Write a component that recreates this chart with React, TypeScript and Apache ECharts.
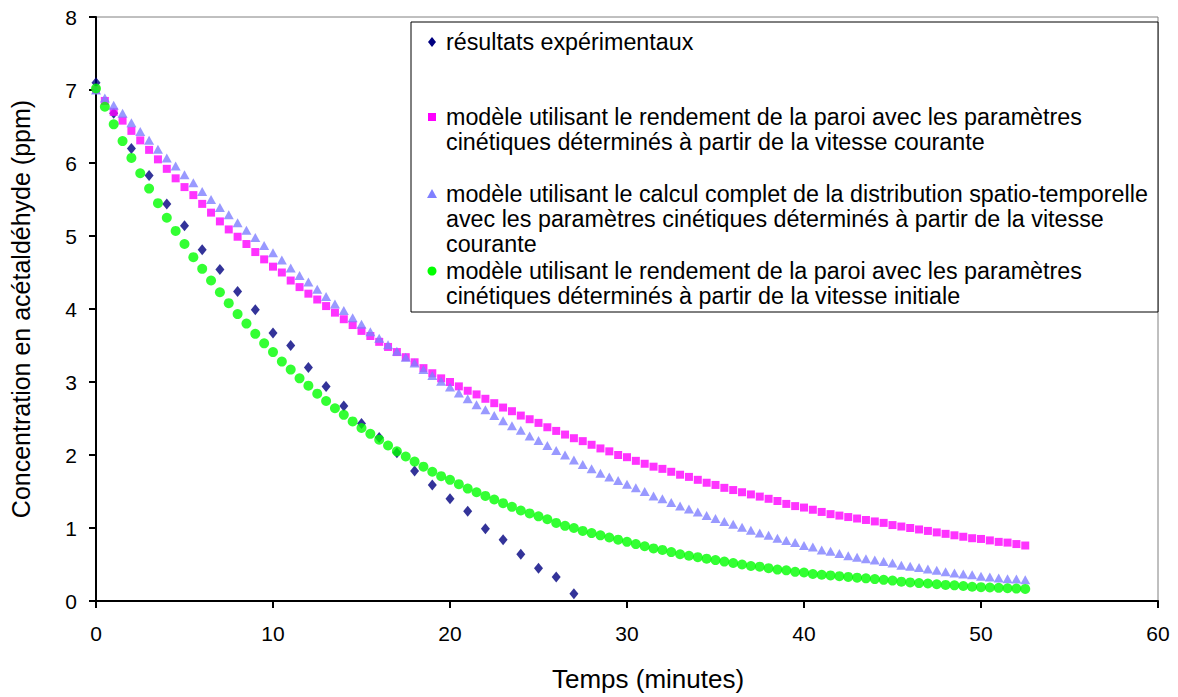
import React, { useEffect, useRef } from "react";
import * as echarts from "echarts";

const FONT = "'Liberation Sans', Arial, Helvetica, sans-serif";

// experimental results (minutes, ppm)
const expMinutes = [0, 1, 2, 3, 4, 5, 6, 7, 8, 9, 10, 11, 12, 13, 14, 15, 16, 17, 18, 19, 20, 21, 22, 23, 24, 25, 26, 27];
const expValues = [7.1, 6.68, 6.2, 5.83, 5.44, 5.14, 4.81, 4.54, 4.24, 3.99, 3.67, 3.5, 3.2, 2.94, 2.67, 2.43, 2.24, 2.03, 1.78, 1.59, 1.4, 1.23, 0.99, 0.84, 0.64, 0.45, 0.33, 0.1];

// model time grid (minutes)
const modelMinutes = [
  0, 0.5, 1, 1.5, 2, 2.5, 3, 3.5, 4, 4.5, 5, 5.5, 6, 6.5, 7, 7.5, 8, 8.5, 9, 9.5,
  10, 10.5, 11, 11.5, 12, 12.5, 13, 13.5, 14, 14.5, 15, 15.5, 16, 16.5, 17, 17.5, 18, 18.5, 19, 19.5,
  20, 20.5, 21, 21.5, 22, 22.5, 23, 23.5, 24, 24.5, 25, 25.5, 26, 26.5, 27, 27.5, 28, 28.5, 29, 29.5,
  30, 30.5, 31, 31.5, 32, 32.5, 33, 33.5, 34, 34.5, 35, 35.5, 36, 36.5, 37, 37.5, 38, 38.5, 39, 39.5,
  40, 40.5, 41, 41.5, 42, 42.5, 43, 43.5, 44, 44.5, 45, 45.5, 46, 46.5, 47, 47.5, 48, 48.5, 49, 49.5,
  50, 50.5, 51, 51.5, 52, 52.5,
];

// wall yield model, current-rate kinetic parameters (magenta squares)
const wallCurrent = [
  7.0, 6.85, 6.7, 6.58, 6.44, 6.31, 6.18, 6.05, 5.92, 5.79, 5.67, 5.56, 5.44, 5.32, 5.2, 5.09, 4.99, 4.89, 4.78, 4.68,
  4.58, 4.5, 4.39, 4.3, 4.21, 4.13, 4.04, 3.95, 3.86, 3.78, 3.7, 3.63, 3.55, 3.48, 3.41, 3.34, 3.27, 3.19, 3.12, 3.05,
  3.0, 2.94, 2.88, 2.83, 2.77, 2.71, 2.65, 2.6, 2.54, 2.49, 2.44, 2.38, 2.33, 2.28, 2.23, 2.19, 2.14, 2.09, 2.05, 2.0,
  1.97, 1.92, 1.88, 1.84, 1.81, 1.77, 1.73, 1.7, 1.66, 1.62, 1.59, 1.55, 1.52, 1.49, 1.46, 1.43, 1.4, 1.37, 1.33, 1.3,
  1.28, 1.25, 1.22, 1.19, 1.17, 1.15, 1.13, 1.11, 1.09, 1.07, 1.04, 1.02, 1.0, 0.98, 0.96, 0.94, 0.92, 0.9, 0.88, 0.86,
  0.85, 0.83, 0.81, 0.8, 0.78, 0.76,
];

// full spatio-temporal model (lavender triangles)
const fullModel = [
  7.0, 6.89, 6.79, 6.68, 6.55, 6.43, 6.31, 6.19, 6.07, 5.96, 5.84, 5.73, 5.61, 5.5, 5.39, 5.29, 5.18, 5.08, 4.98, 4.87,
  4.77, 4.67, 4.56, 4.46, 4.37, 4.27, 4.17, 4.07, 3.98, 3.88, 3.79, 3.69, 3.6, 3.51, 3.42, 3.34, 3.26, 3.17, 3.09, 3.01,
  2.93, 2.85, 2.77, 2.69, 2.62, 2.54, 2.47, 2.4, 2.34, 2.26, 2.2, 2.13, 2.06, 2.0, 1.93, 1.87, 1.81, 1.75, 1.7, 1.65,
  1.6, 1.55, 1.5, 1.44, 1.4, 1.35, 1.3, 1.26, 1.22, 1.17, 1.13, 1.09, 1.05, 1.01, 0.97, 0.93, 0.9, 0.86, 0.83, 0.8,
  0.76, 0.74, 0.7, 0.68, 0.65, 0.62, 0.6, 0.58, 0.56, 0.54, 0.52, 0.49, 0.475, 0.46, 0.44, 0.42, 0.4, 0.385, 0.37, 0.36,
  0.34, 0.33, 0.315, 0.305, 0.3, 0.29,
];

// wall yield model, initial-rate kinetic parameters (green circles)
const wallInitial = [
  7.02, 6.77, 6.53, 6.3, 6.07, 5.86, 5.65, 5.45, 5.25, 5.07, 4.89, 4.71, 4.55, 4.39, 4.23, 4.08, 3.93, 3.8, 3.66, 3.53,
  3.41, 3.28, 3.17, 3.05, 2.95, 2.84, 2.74, 2.64, 2.55, 2.46, 2.37, 2.29, 2.21, 2.13, 2.05, 1.98, 1.91, 1.84, 1.77, 1.71,
  1.66, 1.6, 1.54, 1.49, 1.44, 1.39, 1.34, 1.29, 1.24, 1.2, 1.16, 1.12, 1.07, 1.03, 1.0, 0.96, 0.93, 0.9, 0.87, 0.84,
  0.81, 0.78, 0.75, 0.72, 0.7, 0.67, 0.64, 0.62, 0.6, 0.58, 0.56, 0.54, 0.52, 0.5, 0.48, 0.47, 0.45, 0.43, 0.42, 0.4,
  0.39, 0.37, 0.36, 0.35, 0.34, 0.33, 0.32, 0.31, 0.3, 0.29, 0.28, 0.265, 0.255, 0.245, 0.24, 0.23, 0.22, 0.215, 0.205, 0.195,
  0.19, 0.185, 0.18, 0.175, 0.17, 0.165,
];

const seriesNames = [
  "résultats expérimentaux",
  "modèle utilisant le rendement de la paroi avec les paramètres cinétiques déterminés à partir de la vitesse courante",
  "modèle utilisant le calcul complet de la distribution spatio-temporelle avec les paramètres cinétiques déterminés à partir de la vitesse courante",
  "modèle utilisant le rendement de la paroi avec les paramètres cinétiques déterminés à partir de la vitesse initiale",
];

const legendLines = [
  ["résultats expérimentaux"],
  ["modèle utilisant le rendement de la paroi avec les paramètres", "cinétiques déterminés à partir de la vitesse courante"],
  [
    "modèle utilisant le calcul complet de la distribution spatio-temporelle",
    "avec les paramètres cinétiques déterminés à partir de la vitesse",
    "courante",
  ],
  ["modèle utilisant le rendement de la paroi avec les paramètres", "cinétiques déterminés à partir de la vitesse initiale"],
];

const colors = ["#000080", "#FF00FF", "#8080FF", "#00FF00"];

const xTitle = "Temps (minutes)";
const yTitle = "Concentration en acétaldéhyde (ppm)";

function pairs(xs: number[], ys: number[]) {
  return ys.map((y, i) => [xs[i], y]);
}

function buildLegend() {
  const children: any[] = [];
  children.push({
    type: "rect",
    shape: { x: 411, y: 22, width: 747, height: 290 },
    style: { fill: "#fff", stroke: "#000", lineWidth: 1 },
  });
  const starts = [42, 117, 194, 271];
  const mx = 432;
  legendLines.forEach((lines, i) => {
    const y0 = starts[i];
    lines.forEach((line, j) => {
      children.push({
        type: "text",
        x: 446,
        y: y0 + j * 25,
        style: {
          text: line,
          fill: "#000",
          font: `23.3px ${FONT}`,
          verticalAlign: "middle",
          align: "left",
        },
      });
    });
    const c = colors[i];
    if (i === 0) {
      children.push({ type: "polygon", shape: { points: [[mx, y0 - 5], [mx + 4, y0], [mx, y0 + 5], [mx - 4, y0]] }, style: { fill: c } });
    } else if (i === 1) {
      children.push({ type: "rect", shape: { x: mx - 4, y: y0 - 4, width: 8, height: 8 }, style: { fill: c } });
    } else if (i === 2) {
      children.push({ type: "polygon", shape: { points: [[mx, y0 - 5], [mx + 5, y0 + 4], [mx - 5, y0 + 4]] }, style: { fill: c } });
    } else {
      children.push({ type: "circle", shape: { cx: mx, cy: y0, r: 4.5 }, style: { fill: c } });
    }
  });
  return [{ type: "group", z: 100, children }];
}

export default function App() {
  const ref = useRef<HTMLDivElement>(null);
  useEffect(() => {
    const chart = echarts.init(ref.current!, null, { renderer: "svg" });
    const axisCommon = {
      axisLine: { show: true, onZero: false, lineStyle: { color: "#000", width: 2 } },
      axisTick: { show: true, inside: false, length: 7, lineStyle: { color: "#000", width: 2 } },
      splitLine: { show: false },
    };
    chart.setOption({
      animation: false,
      backgroundColor: "#fff",
      textStyle: { fontFamily: FONT },
      grid: {
        left: 96,
        right: 20,
        top: 17,
        bottom: 96,
        show: true,
        borderColor: "#808080",
        borderWidth: 1,
        containLabel: false,
        outerBoundsMode: "none",
      },
      xAxis: {
        type: "value",
        min: 0,
        max: 60,
        interval: 10,
        name: xTitle,
        nameLocation: "middle",
        nameGap: 65,
        nameTextStyle: { color: "#000", fontSize: 26, fontFamily: FONT, padding: [0, 0, 0, 42] },
        ...axisCommon,
        axisLabel: { color: "#000", fontSize: 21, margin: 22, fontFamily: FONT },
      },
      yAxis: {
        type: "value",
        min: 0,
        max: 8,
        interval: 1,
        name: yTitle,
        nameLocation: "middle",
        nameGap: 63,
        nameTextStyle: { color: "#000", fontSize: 25, fontFamily: FONT },
        ...axisCommon,
        axisLabel: { color: "#000", fontSize: 21, margin: 19, fontFamily: FONT },
      },
      series: [
        {
          name: seriesNames[0],
          type: "scatter",
          symbol: "diamond",
          symbolSize: [9, 11],
          itemStyle: { color: colors[0] },
          data: pairs(expMinutes, expValues),
          z: 2,
        },
        {
          name: seriesNames[1],
          type: "scatter",
          symbol: "rect",
          symbolSize: 8,
          itemStyle: { color: colors[1] },
          data: pairs(modelMinutes, wallCurrent),
          z: 3,
        },
        {
          name: seriesNames[2],
          type: "scatter",
          symbol: "triangle",
          symbolSize: [10, 9],
          itemStyle: { color: colors[2] },
          data: pairs(modelMinutes, fullModel),
          z: 4,
        },
        {
          name: seriesNames[3],
          type: "scatter",
          symbol: "circle",
          symbolSize: 10,
          itemStyle: { color: colors[3] },
          data: pairs(modelMinutes, wallInitial),
          z: 5,
        },
      ],
      graphic: buildLegend(),
    });
    return () => chart.dispose();
  }, []);
  return (
    <div
      ref={ref}
      style={{ position: "fixed", left: 0, top: 0, width: 1178, height: 697, background: "#fff" }}
    />
  );
}
